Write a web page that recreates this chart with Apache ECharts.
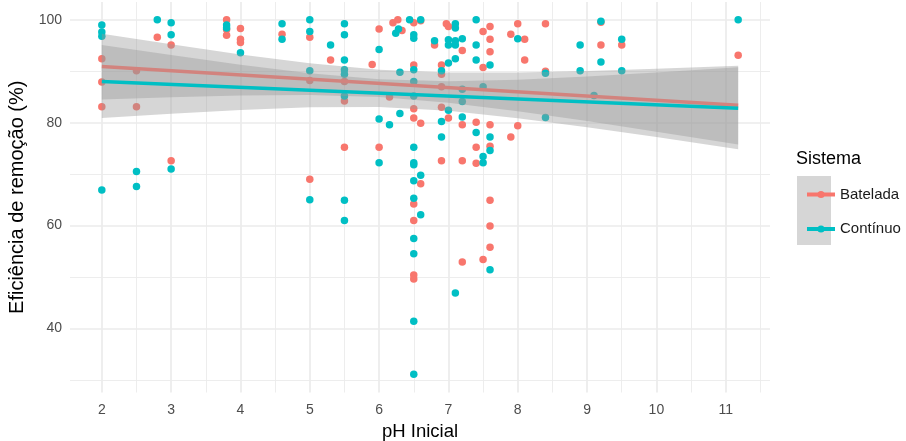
<!DOCTYPE html>
<html>
<head>
<meta charset="utf-8">
<script src="https://cdn.jsdelivr.net/npm/echarts@6/dist/echarts.min.js"></script>
<style>html,body{margin:0;padding:0;background:#fff}#c{width:906px;height:441px}</style>
</head>
<body>
<div id="c"></div>
<script>
// ---- data ----
const batelada = [
  [2,92.4],[2,87.9],[2,83.1],[2.5,90.1],[2.5,83.1],[2.8,96.6],[3,95.1],[3,72.6],
  [3.8,100],[3.8,98.1],[3.8,97.0],[4,98.3],[4,96.2],[4,95.6],[4.6,97.2],
  [5,96.6],[5,88.2],[5,69.0],[5.3,92.2],[5.5,88.0],[5.5,84.2],[5.5,75.2],[5.9,91.3],
  [6,98.2],[6,75.2],[6.15,85.0],[6.2,99.4],[6.27,100],[6.33,97.9],
  [6.5,99.4],[6.5,91.2],[6.5,82.7],[6.5,80.9],[6.5,64.2],[6.5,61.0],[6.5,50.4],[6.5,49.6],
  [6.6,99.8],[6.6,79.9],[6.6,68.1],[6.8,95.1],
  [6.9,91.2],[6.9,89.4],[6.9,87.0],[6.9,83.0],[6.9,72.6],[6.97,99.2],[7.0,98.7],[7.0,80.9],
  [7.2,94.0],[7.2,79.6],[7.2,72.6],[7.2,52.9],[7.4,80.1],[7.4,75.2],[7.4,72.1],
  [7.5,97.7],[7.5,90.7],[7.5,53.4],
  [7.6,98.7],[7.6,96.2],[7.6,93.8],[7.6,79.6],[7.6,75.4],[7.6,64.9],[7.6,59.9],[7.6,55.8],
  [7.9,97.2],[7.9,77.2],[8.0,99.2],[8.0,79.4],[8.1,96.2],[8.1,92.2],[8.4,99.2],[8.4,90.0],
  [9.2,99.5],[9.2,95.1],[9.5,95.1],[11.18,93.1]
];
const continuo = [
  [2,99.0],[2,97.6],[2,96.8],[2,66.9],[2.5,70.5],[2.5,67.6],[2.8,100],[3,99.4],[3,97.1],[3,71.0],
  [3.8,99.0],[3.8,98.4],[4,93.6],[4.6,99.2],[4.6,96.2],
  [5,100],[5,97.7],[5,90.1],[5,65.0],[5.3,95.1],
  [5.5,99.2],[5.5,97.1],[5.5,92.2],[5.5,90.3],[5.5,89.4],[5.5,85.2],[5.5,64.9],[5.5,61.0],
  [6,94.2],[6,80.7],[6,72.2],[6.15,79.6],[6.24,97.4],[6.28,98.2],[6.3,89.8],[6.3,81.8],[6.44,100],
  [6.5,97.1],[6.5,96.4],[6.5,90.3],[6.5,88.0],[6.5,85.2],[6.5,75.2],[6.5,72.2],[6.5,71.8],
  [6.5,68.7],[6.5,65.3],[6.5,57.5],[6.5,54.5],[6.5,41.4],[6.5,31.1],
  [6.6,100],[6.6,69.8],[6.6,62.1],[6.8,95.9],[6.9,90.1],[6.9,80.2],[6.9,77.2],
  [7.0,96.1],[7.0,95.1],[7.0,91.6],[7.0,82.4],
  [7.1,99.2],[7.1,98.4],[7.1,95.9],[7.1,95.1],[7.1,92.4],[7.1,46.9],
  [7.2,96.3],[7.2,86.5],[7.2,84.1],[7.2,81.1],[7.4,100],[7.4,95.1],[7.4,92.2],[7.4,78.1],
  [7.5,87.0],[7.5,73.4],[7.5,72.2],[7.6,91.2],[7.6,77.2],[7.6,74.6],[7.6,51.4],
  [8.0,96.3],[8.4,89.6],[8.4,81.0],[8.9,95.1],[8.9,90.1],[9.1,85.3],[9.2,99.7],[9.2,91.8],
  [9.5,96.2],[9.5,90.1],[11.18,100]
];
const fitX = [2, 11.18];
const bateladaFit = [90.9, 83.4];
const continuoFit = [88.0, 82.8];
const bandX = [2, 3, 4, 5, 6, 7, 8, 9, 10, 11.18];
const bateladaLo = [84.5, 84.94, 85.27, 85.36, 84.97, 83.88, 82.23, 80.30, 78.25, 75.74];
const bateladaHi = [97.3, 95.22, 93.27, 91.54, 90.29, 89.76, 89.77, 90.06, 90.49, 91.06];
const continuoLo = [80.9, 81.73, 82.47, 83.0, 83.06, 82.31, 80.87, 79.11, 77.19, 74.84];
const continuoHi = [95.1, 93.13, 91.27, 89.6, 88.42, 88.03, 88.33, 88.97, 89.75, 90.76];
const xTicks = [2, 3, 4, 5, 6, 7, 8, 9, 10, 11];
const xMinor = [2.5, 3.5, 4.5, 5.5, 6.5, 7.5, 8.5, 9.5, 10.5, 11.5];
const yTicks = [40, 60, 80, 100];
const yMinor = [30, 50, 70, 90];

const RED = '#F8766D', CYAN = '#00BFC4';
const FONT = '"Liberation Sans", Arial, sans-serif';

function bandSeries(name, lo, hi, z) {
  return {
    name: name, type: 'custom', z: z, silent: true,
    data: [[bandX[0], lo[0]]],
    renderItem: function (params, api) {
      const pts = [];
      for (let i = 0; i < bandX.length; i++) pts.push(api.coord([bandX[i], hi[i]]));
      for (let i = bandX.length - 1; i >= 0; i--) pts.push(api.coord([bandX[i], lo[i]]));
      return { type: 'polygon', shape: { points: pts }, style: { fill: 'rgba(153,153,153,0.4)' } };
    }
  };
}
function gridLines() {
  const d = [];
  xMinor.forEach(v => d.push({ xAxis: v, lineStyle: { width: 0.9 } }));
  yMinor.forEach(v => d.push({ yAxis: v, lineStyle: { width: 0.9 } }));
  xTicks.forEach(v => d.push({ xAxis: v, lineStyle: { width: 1.7 } }));
  yTicks.forEach(v => d.push({ yAxis: v, lineStyle: { width: 1.7 } }));
  return d;
}

const chart = echarts.init(document.getElementById('c'), null, { renderer: 'canvas' });
chart.setOption({
  animation: false,
  backgroundColor: '#fff',
  textStyle: { fontFamily: FONT },
  grid: { left: 70, right: 136, top: 2, bottom: 48.5, containLabel: false, outerBoundsMode: 'none' },
  title: {
    text: 'Sistema', left: 796, top: 150, padding: 0,
    textStyle: { fontFamily: FONT, fontSize: 18, fontWeight: 'normal', color: '#000' }
  },
  graphic: [{ type: 'rect', left: 797, top: 176, z: 0, silent: true,
    shape: { width: 34, height: 69 }, style: { fill: '#d6d6d6' } }],
  legend: {
    orient: 'vertical', left: 800, top: 182, itemWidth: 28, itemHeight: 9, itemGap: 19.5,
    data: ['Batelada', 'Contínuo'],
    lineStyle: { width: 4 },
    textStyle: { fontFamily: FONT, fontSize: 15, color: '#1a1a1a' }
  },
  xAxis: {
    type: 'value', min: 1.541, max: 11.639,
    axisLine: { show: false }, axisTick: { show: false }, splitLine: { show: false },
    axisLabel: { customValues: xTicks, color: '#4D4D4D', fontSize: 14, margin: 11, fontFamily: FONT },
    name: 'pH Inicial', nameLocation: 'middle', nameGap: 30,
    nameTextStyle: { fontSize: 18.5, color: '#000', fontFamily: FONT }
  },
  yAxis: {
    type: 'value', min: 27.55, max: 103.45,
    axisLine: { show: false }, axisTick: { show: false }, splitLine: { show: false },
    axisLabel: { customValues: yTicks, color: '#4D4D4D', fontSize: 14, margin: 8, fontFamily: FONT },
    name: 'Eficiência de remoção (%)', nameLocation: 'middle', nameGap: 41,
    nameTextStyle: { fontSize: 20, color: '#000', fontFamily: FONT }
  },
  series: [
    { name: 'grid', type: 'scatter', data: [], z: 1, silent: true,
      markLine: { silent: true, symbol: ['none', 'none'], label: { show: false }, z: 1,
        lineStyle: { color: '#EBEBEB', type: 'solid' }, emphasis: { disabled: true },
        data: gridLines() } },
    { name: 'Batelada pontos', type: 'scatter', z: 2, data: batelada, symbolSize: 7.5,
      itemStyle: { color: RED, opacity: 1 } },
    { name: 'Contínuo pontos', type: 'scatter', z: 2, data: continuo, symbolSize: 7.5,
      itemStyle: { color: CYAN, opacity: 1 } },
    bandSeries('Batelada banda', bateladaLo, bateladaHi, 3),
    { name: 'Batelada', type: 'line', z: 4, data: fitX.map((x, i) => [x, bateladaFit[i]]),
      symbol: 'circle', showSymbol: false, color: RED, lineStyle: { width: 3.5, color: RED },
      itemStyle: { color: RED } },
    bandSeries('Contínuo banda', continuoLo, continuoHi, 5),
    { name: 'Contínuo', type: 'line', z: 6, data: fitX.map((x, i) => [x, continuoFit[i]]),
      symbol: 'circle', showSymbol: false, color: CYAN, lineStyle: { width: 3.5, color: CYAN },
      itemStyle: { color: CYAN } }
  ]
});
</script>
</body>
</html>
